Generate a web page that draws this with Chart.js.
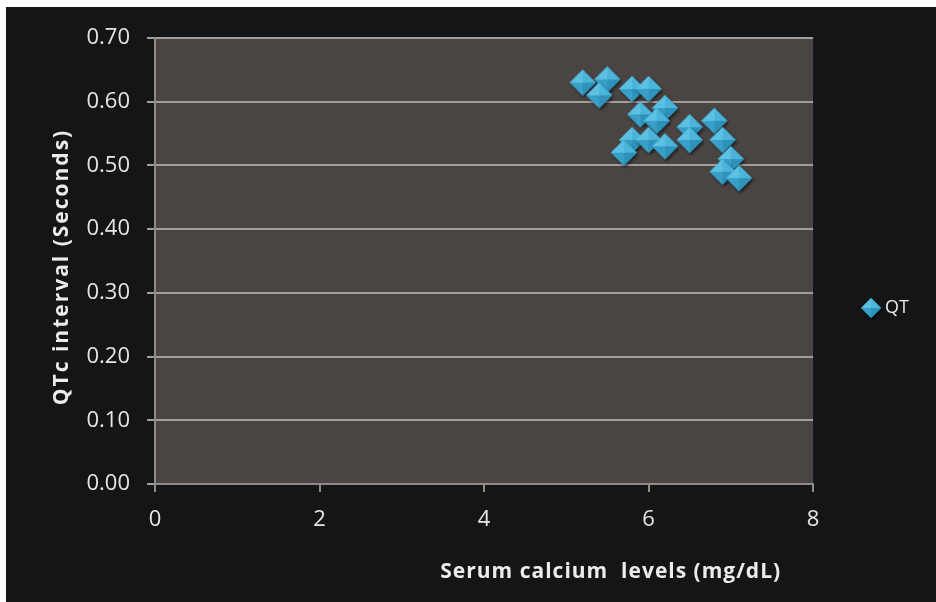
<!DOCTYPE html>
<html>
<head>
<meta charset="utf-8">
<script src="https://cdn.jsdelivr.net/npm/chart.js@4/dist/chart.umd.min.js"></script>
<style>
  html, body { margin: 0; padding: 0; background: #ffffff; }
  #wrap { position: absolute; left: 6px; top: 7px; width: 930px; height: 595px; background: #141517; }
</style>
</head>
<body>
<div id="wrap"><canvas id="qt-chart"></canvas></div>
<script>
// serum calcium (mg/dL) vs QTc interval (s)
const calcium = [5.2, 5.5, 5.4, 5.8, 6.0, 5.9, 6.2, 6.1, 5.8, 6.0, 5.7, 6.2, 6.5, 6.5, 6.8, 6.9, 7.0, 6.9, 7.1];
const qtc = [0.63, 0.635, 0.61, 0.62, 0.62, 0.58, 0.59, 0.57, 0.54, 0.54, 0.52, 0.53, 0.56, 0.54, 0.57, 0.54, 0.51, 0.49, 0.48];
const seriesName = "QT";
const xTitle = "Serum calcium  levels (mg/dL)";
const yTitle = "QTc interval (Seconds)";

// little pyramid-looking diamond, like the office marker
function makeDiamond(r) {
  const pad = 4;
  const s = 2 * r + pad * 2;
  const c = document.createElement("canvas");
  c.width = s;
  c.height = s;
  const g = c.getContext("2d");
  const m = s / 2;
  const top = [m, m - r], right = [m + r, m], bottom = [m, m + r], left = [m - r, m];

  g.save();
  g.shadowColor = "rgba(0,0,0,0.6)";
  g.shadowBlur = 3;
  g.shadowOffsetX = 1.5;
  g.shadowOffsetY = 2;
  g.beginPath();
  g.moveTo(...top); g.lineTo(...right); g.lineTo(...bottom); g.lineTo(...left);
  g.closePath();
  g.fillStyle = "#3199c2";
  g.fill();
  g.restore();

  const face = (a, b, col) => {
    g.beginPath();
    g.moveTo(...a); g.lineTo(...b); g.lineTo(m, m);
    g.closePath();
    g.fillStyle = col;
    g.fill();
  };
  face(left, top, "#5cc0e3");
  face(top, right, "#4bb4db");
  face(right, bottom, "#2e92bb");
  face(bottom, left, "#38a0c8");
  return c;
}

const bigDiamond = makeDiamond(13);
const smallDiamond = makeDiamond(10);

const plotBg = {
  id: "plotBg",
  beforeDraw(chart) {
    const { ctx, chartArea } = chart;
    ctx.save();
    ctx.fillStyle = "#4a4543";
    ctx.fillRect(chartArea.left, chartArea.top, chartArea.right - chartArea.left, chartArea.bottom - chartArea.top);
    ctx.restore();
  },
};

// axis titles drawn by hand, the x one sits right of centre in the original
const axisTitles = {
  id: "axisTitles",
  afterDraw(chart) {
    const { ctx, chartArea } = chart;
    ctx.save();
    ctx.font = "bold 21px 'Open Sans'";
    ctx.fillStyle = "#ececec";
    ctx.textAlign = "center";
    ctx.textBaseline = "middle";
    ctx.letterSpacing = "1px";
    ctx.fillText(xTitle, chartArea.left + (chartArea.right - chartArea.left) * 0.6925, chartArea.bottom + 88);

    ctx.letterSpacing = "2px";
    ctx.translate(56, (chartArea.top + chartArea.bottom) / 2 + 6);
    ctx.rotate(-Math.PI / 2);
    ctx.fillText(yTitle, 0, 0);
    ctx.restore();
  },
};

const tickFont = { family: "'Open Sans'", size: 22 };

new Chart(document.getElementById("qt-chart"), {
  type: "scatter",
  data: {
    datasets: [
      {
        label: seriesName,
        data: calcium.map((x, i) => ({ x: x, y: qtc[i] })),
        pointStyle: bigDiamond,
        pointRadius: 13,
        pointHoverRadius: 13,
      },
    ],
  },
  plugins: [plotBg, axisTitles],
  options: {
    responsive: true,
    maintainAspectRatio: false,
    animation: false,
    layout: { padding: { top: 31, left: 0, right: 17, bottom: 24 } },
    plugins: {
      tooltip: { enabled: false },
      legend: {
        position: "right",
        labels: {
          usePointStyle: true,
          pointStyle: smallDiamond,
          boxWidth: 10,
          padding: 53,
          color: "#ececec",
          font: { family: "'Open Sans'", size: 18 },
        },
      },
    },
    scales: {
      x: {
        type: "linear",
        min: 0,
        max: 8,
        afterFit(scale) {
          scale.height = 94;
        },
        ticks: { stepSize: 2, color: "#e6e6e6", font: tickFont, padding: 15, maxRotation: 0 },
        grid: { drawOnChartArea: false, drawTicks: true, tickLength: 8, color: "#8f8b89", lineWidth: 2 },
        border: { color: "#8f8b89", width: 2 },
      },
      y: {
        type: "linear",
        min: 0,
        max: 0.7,
        afterFit(scale) {
          scale.width = 149;
        },
        ticks: {
          stepSize: 0.1,
          color: "#e6e6e6",
          font: tickFont,
          padding: 17,
          callback: (v) => v.toFixed(2),
        },
        grid: { color: "#a29e9c", lineWidth: 2, drawTicks: true, tickLength: 8 },
        border: { color: "#8f8b89", width: 2 },
      },
    },
  },
});
</script>
</body>
</html>
